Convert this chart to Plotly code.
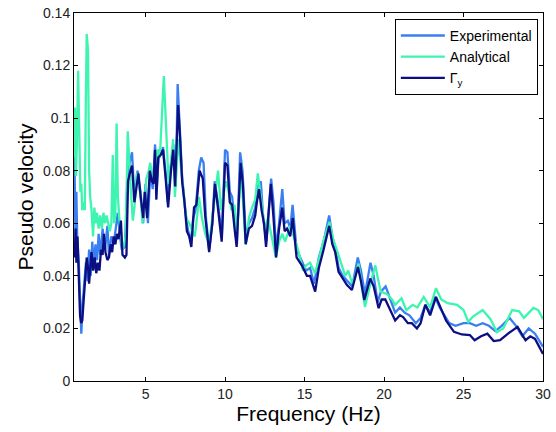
import plotly.graph_objects as go

# ---------------- data ----------------
exp_freq = [0.5, 0.55, 0.6, 0.65, 0.7, 0.8, 0.9, 0.96, 1.05, 1.15, 1.25, 1.35, 1.45, 1.55, 1.65,
            1.75, 1.85, 1.95, 2.05, 2.15, 2.3, 2.45, 2.6, 2.7, 2.85, 3.0, 3.15, 3.25, 3.4, 3.5,
            3.7, 3.85, 4.0, 4.15, 4.3, 4.5, 4.65, 4.85, 5.0, 5.15, 5.3, 5.45, 5.6, 5.7, 5.85,
            6.0, 6.1, 6.25, 6.4, 6.55, 6.75, 6.9, 7.02, 7.15, 7.3, 7.5, 7.65, 7.85, 8.0, 8.15,
            8.35, 8.5, 8.65, 8.8, 9.0, 9.2, 9.35, 9.55, 9.8, 10.0, 10.15, 10.3, 10.45, 10.6,
            10.75, 10.95, 11.1, 11.3, 11.5, 11.7, 11.9, 12.05, 12.25, 12.4, 12.6, 12.9, 13.05,
            13.2, 13.4, 13.6, 13.75, 13.95, 14.1, 14.25, 14.5, 14.8, 15.1, 15.35, 15.6, 15.9,
            16.2, 16.55, 16.75, 16.95, 17.15, 17.4, 17.7, 18.0, 18.35, 18.55, 18.8, 19.15,
            19.35, 19.6, 19.8, 20.1, 20.4, 20.7, 21.0, 21.3, 21.6, 22.0, 22.3, 22.6, 22.9,
            23.2, 23.5, 23.8, 24.1, 24.5, 25.0, 25.4, 25.8, 26.2, 26.6, 27.0, 27.4, 27.9,
            28.3, 28.7, 29.1, 29.5, 30.0]
exp_vel = [0.100, 0.075, 0.050, 0.072, 0.055, 0.045, 0.028, 0.018, 0.030, 0.037, 0.045, 0.038,
           0.050, 0.040, 0.053, 0.044, 0.052, 0.046, 0.056, 0.048, 0.058, 0.050, 0.059, 0.048,
           0.055, 0.052, 0.060, 0.064, 0.055, 0.050, 0.051, 0.075, 0.083, 0.087, 0.070, 0.080,
           0.072, 0.060, 0.075, 0.060, 0.080, 0.073, 0.090, 0.073, 0.088, 0.086, 0.089, 0.080,
           0.068, 0.080, 0.090, 0.074, 0.113, 0.095, 0.078, 0.065, 0.058, 0.053, 0.062, 0.065,
           0.080, 0.085, 0.083, 0.062, 0.050, 0.060, 0.076, 0.068, 0.055, 0.088, 0.087, 0.072,
           0.070, 0.060, 0.052, 0.087, 0.080, 0.055, 0.060, 0.062, 0.066, 0.074, 0.076, 0.062,
           0.053, 0.077, 0.068, 0.050, 0.060, 0.073, 0.060, 0.061, 0.058, 0.067, 0.050, 0.046,
           0.042, 0.043, 0.037, 0.047, 0.053, 0.063, 0.055, 0.050, 0.043, 0.040, 0.038, 0.036,
           0.047, 0.042, 0.033, 0.045, 0.040, 0.030, 0.034, 0.036, 0.031, 0.026, 0.028, 0.026,
           0.025, 0.022, 0.024, 0.029, 0.026, 0.032, 0.028, 0.025, 0.022, 0.021, 0.022, 0.022,
           0.021, 0.022, 0.021, 0.019, 0.021, 0.024, 0.021, 0.017, 0.020, 0.018, 0.013]

ana_freq = [0.5, 0.56, 0.62, 0.68, 0.76, 0.84, 0.9, 0.96, 1.02, 1.1, 1.18, 1.25, 1.3, 1.38, 1.45,
            1.52, 1.6, 1.7, 1.78, 1.86, 1.95, 2.05, 2.15, 2.25, 2.35, 2.45, 2.55, 2.65, 2.75,
            2.85, 2.94, 3.02, 3.1, 3.18, 3.26, 3.35, 3.45, 3.55, 3.65, 3.75, 3.88, 3.95, 4.05,
            4.2, 4.3, 4.45, 4.55, 4.7, 4.8, 4.95, 5.05, 5.2, 5.3, 5.45, 5.6, 5.75, 5.9, 6.15,
            6.35, 6.45, 6.6, 6.73, 6.85, 7.05, 7.15, 7.35, 7.55, 7.75, 7.9, 8.1, 8.25, 8.36,
            8.55, 8.75, 9.0, 9.2, 9.4, 9.56, 9.75, 9.9, 10.05, 10.2, 10.4, 10.6, 10.73, 10.9,
            11.0, 11.15, 11.3, 11.5, 11.7, 11.9, 12.06, 12.25, 12.5, 12.7, 12.85, 13.0, 13.2,
            13.4, 13.6, 13.78, 14.1, 14.3, 14.6, 14.9, 15.1, 15.35, 15.65, 15.9, 16.17, 16.57,
            16.8, 17.1, 17.3, 17.56, 17.75, 18.0, 18.2, 18.4, 18.6, 18.8, 19.1, 19.45, 19.65,
            19.8, 20.2, 20.5, 20.7, 21.1, 21.4, 21.8, 22.1, 22.5, 22.9, 23.27, 23.6, 24.0,
            24.6, 25.0, 25.3, 25.6, 26.2, 26.7, 27.1, 27.5, 28.06, 28.5, 28.8, 29.4, 29.7, 30.0]
ana_vel = [0.085, 0.104, 0.078, 0.090, 0.118, 0.085, 0.072, 0.075, 0.065, 0.068, 0.065, 0.110,
           0.132, 0.126, 0.080, 0.070, 0.065, 0.055, 0.066, 0.060, 0.064, 0.058, 0.063, 0.058,
           0.064, 0.060, 0.063, 0.060, 0.057, 0.060, 0.086, 0.060, 0.063, 0.098, 0.070, 0.062,
           0.055, 0.050, 0.052, 0.055, 0.095, 0.085, 0.075, 0.061, 0.066, 0.079, 0.075, 0.072,
           0.060, 0.068, 0.077, 0.080, 0.083, 0.075, 0.083, 0.088, 0.085, 0.116, 0.088, 0.075,
           0.083, 0.092, 0.070, 0.092, 0.086, 0.075, 0.062, 0.060, 0.058, 0.055, 0.063, 0.070,
           0.062, 0.056, 0.052, 0.063, 0.072, 0.080, 0.065, 0.071, 0.076, 0.073, 0.065, 0.067,
           0.056, 0.070, 0.083, 0.066, 0.052, 0.062, 0.066, 0.069, 0.079, 0.070, 0.058, 0.062,
           0.058, 0.053, 0.047, 0.053, 0.056, 0.053, 0.059, 0.055, 0.0498, 0.042, 0.044, 0.045,
           0.041, 0.046, 0.053, 0.0605, 0.054, 0.0486, 0.045, 0.040, 0.042, 0.037, 0.040,
           0.0446, 0.036, 0.0282, 0.036, 0.044, 0.038, 0.034, 0.033, 0.031, 0.029, 0.0315,
           0.027, 0.029, 0.028, 0.032, 0.028, 0.0353, 0.031, 0.0296, 0.029, 0.027, 0.0225,
           0.0245, 0.027, 0.0235, 0.0186, 0.020, 0.027, 0.0265, 0.024, 0.0278, 0.027, 0.0235]

gam_freq = [0.5, 0.55, 0.6, 0.65, 0.72, 0.8, 0.88, 0.95, 1.02, 1.1, 1.2, 1.3, 1.4, 1.45, 1.55,
            1.6, 1.7, 1.8, 1.9, 2.0, 2.1, 2.2, 2.3, 2.38, 2.48, 2.6, 2.7, 2.8, 2.9, 3.0, 3.1,
            3.2, 3.3, 3.45, 3.55, 3.7, 3.8, 3.9, 4.05, 4.15, 4.3, 4.45, 4.55, 4.7, 4.85, 4.95,
            5.1, 5.27, 5.4, 5.5, 5.6, 5.68, 5.8, 5.95, 6.1, 6.25, 6.42, 6.6, 6.74, 6.86, 7.05,
            7.15, 7.3, 7.45, 7.6, 7.75, 7.88, 8.05, 8.2, 8.4, 8.6, 8.75, 9.0, 9.2, 9.37, 9.55,
            9.79, 10.0, 10.15, 10.3, 10.45, 10.6, 10.73, 10.98, 11.12, 11.3, 11.5, 11.7, 11.9,
            12.0, 12.14, 12.3, 12.45, 12.58, 12.75, 12.88, 13.05, 13.21, 13.4, 13.6, 13.75,
            13.9, 14.1, 14.26, 14.5, 14.83, 15.15, 15.35, 15.67, 15.9, 16.2, 16.55, 16.75,
            16.93, 17.14, 17.4, 17.67, 17.98, 18.36, 18.55, 18.76, 19.13, 19.35, 19.66, 19.85,
            20.08, 20.4, 20.7, 21.0, 21.2, 21.5, 21.75, 22.07, 22.3, 22.6, 22.9, 23.27, 23.6,
            23.9, 24.4, 24.9, 25.4, 25.7, 26.1, 26.5, 26.9, 27.3, 27.8, 28.4, 28.9, 29.2,
            29.5, 30.0]
gam_vel = [0.053, 0.047, 0.058, 0.045, 0.055, 0.040, 0.025, 0.022, 0.023, 0.030, 0.037, 0.047,
           0.042, 0.037, 0.045, 0.049, 0.042, 0.047, 0.041, 0.045, 0.042, 0.050, 0.048, 0.056,
           0.049, 0.046, 0.047, 0.052, 0.049, 0.055, 0.052, 0.056, 0.054, 0.061, 0.048, 0.047,
           0.048, 0.076, 0.080, 0.082, 0.068, 0.076, 0.079, 0.070, 0.062, 0.072, 0.062, 0.080,
           0.076, 0.075, 0.088, 0.069, 0.085, 0.086, 0.088, 0.078, 0.066, 0.080, 0.088, 0.074,
           0.105, 0.095, 0.076, 0.068, 0.057, 0.055, 0.051, 0.066, 0.067, 0.080, 0.077, 0.063,
           0.049, 0.060, 0.075, 0.066, 0.053, 0.083, 0.082, 0.068, 0.067, 0.058, 0.051, 0.083,
           0.075, 0.052, 0.058, 0.059, 0.063, 0.068, 0.073, 0.065, 0.060, 0.051, 0.065, 0.075,
           0.062, 0.047, 0.058, 0.066, 0.057, 0.058, 0.055, 0.062, 0.047, 0.044, 0.040, 0.040,
           0.034, 0.043, 0.050, 0.059, 0.052, 0.049, 0.0415, 0.039, 0.0365, 0.0346, 0.0434,
           0.038, 0.0308, 0.039, 0.036, 0.0277, 0.031, 0.031, 0.027, 0.023, 0.025, 0.0243,
           0.022, 0.022, 0.020, 0.022, 0.029, 0.025, 0.032, 0.027, 0.023, 0.0187, 0.0177,
           0.0175, 0.0155, 0.017, 0.018, 0.0152, 0.0155, 0.018, 0.0206, 0.0155, 0.017, 0.016,
           0.0103]

series_names = ["Experimental", "Analytical", "Γ<sub>y</sub>"]
series_colors = ["#3a7ff2", "#3df5b0", "#0b0f82"]

x_ticks = [5, 10, 15, 20, 25, 30]
x_tick_labels = ["5", "10", "15", "20", "25", "30"]
y_ticks = [0, 0.02, 0.04, 0.06, 0.08, 0.1, 0.12, 0.14]
y_tick_labels = ["0", "0.02", "0.04", "0.06", "0.08", "0.1", "0.12", "0.14"]

# ---------------- figure ----------------
fig = go.Figure()
for fx, fy, name, col in zip([exp_freq, ana_freq, gam_freq], [exp_vel, ana_vel, gam_vel],
                             series_names, series_colors):
    fig.add_trace(go.Scatter(x=fx, y=fy, mode="lines", name=name,
                             line=dict(color=col, width=2.3)))

font_family = "Liberation Sans, Arial, sans-serif"
axis_common = dict(showline=True, linecolor="black", linewidth=1, mirror="ticks",
                   ticks="inside", ticklen=4, tickcolor="black", showgrid=False,
                   zeroline=False, automargin=False,
                   tickfont=dict(family=font_family, size=14, color="#222"))

fig.update_layout(
    width=556, height=432,
    margin=dict(l=74, r=13, t=13, b=51),
    paper_bgcolor="white", plot_bgcolor="white",
    font=dict(family=font_family, color="black"),
    xaxis=dict(range=[0.5, 30], tickvals=x_ticks, ticktext=x_tick_labels,
               title=dict(text="Frequency (Hz)", font=dict(size=21), standoff=0),
               **axis_common),
    yaxis=dict(range=[0, 0.14], tickvals=y_ticks, ticktext=y_tick_labels,
               title=dict(text="Pseudo velocity", font=dict(size=21), standoff=3),
               **axis_common),
    legend=dict(x=0.989, y=0.984, xanchor="right", yanchor="top",
                bgcolor="white", bordercolor="black", borderwidth=1,
                font=dict(family=font_family, size=14, color="black"),
                itemwidth=44, tracegroupgap=0),
    showlegend=True,
)

fig.write_html("out.html", config={"displayModeBar": False},
               post_script="document.body.style.margin='0';document.body.style.overflow='hidden';")
